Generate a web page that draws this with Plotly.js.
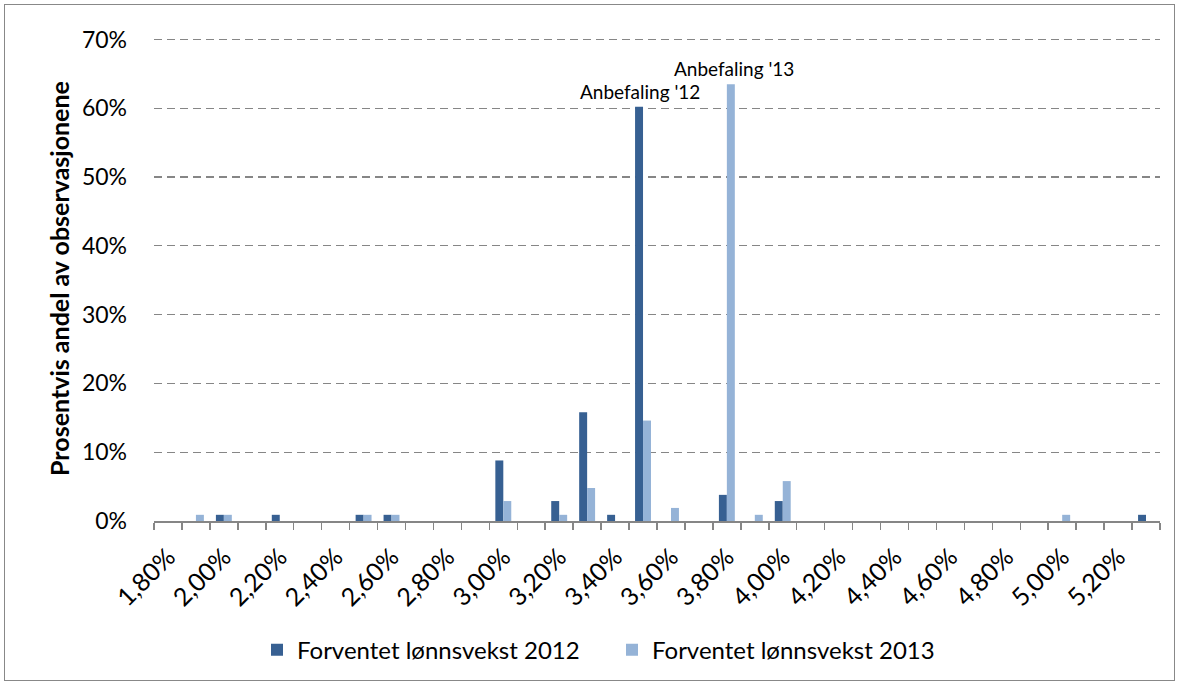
<!DOCTYPE html>
<html>
<head>
<meta charset="utf-8">
<script src="https://cdn.plot.ly/plotly-3.0.1.min.js"></script>
<style>
  html, body { margin: 0; padding: 0; background: #fff; }
  #frame { position: absolute; left: 4px; top: 4px; width: 1171px; height: 677px; border: 1px solid #888; box-sizing: border-box; pointer-events: none; z-index: 5; }
  #chart { position: absolute; left: 0; top: 0; width: 1183px; height: 685px; }
</style>
</head>
<body>
<div id="chart"></div>
<div id="frame"></div>
<script>
// Categories: expected wage growth (%)
const categories = [1.8, 1.9, 2.0, 2.1, 2.2, 2.3, 2.4, 2.5, 2.6, 2.7, 2.8, 2.9,
                    3.0, 3.1, 3.2, 3.3, 3.4, 3.5, 3.6, 3.7, 3.8, 3.9, 4.0, 4.1,
                    4.2, 4.3, 4.4, 4.5, 4.6, 4.7, 4.8, 4.9, 5.0, 5.1, 5.2, 5.3];
// Share of observations (%)
const vekst2012 = [0, 0, 0.9, 0, 0.9, 0, 0, 0.9, 0.9, 0, 0, 0,
                   8.8, 0, 2.9, 15.8, 0.9, 60.2, 0, 0, 3.8, 0, 2.9, 0,
                   0, 0, 0, 0, 0, 0, 0, 0, 0, 0, 0, 0.9];
const vekst2013 = [0, 0.9, 0.9, 0, 0, 0, 0, 0.9, 0.9, 0, 0, 0,
                   2.9, 0, 0.9, 4.8, 0, 14.6, 1.9, 0, 63.5, 0.9, 5.8, 0,
                   0, 0, 0, 0, 0, 0, 0, 0, 0.9, 0, 0, 0];
const tickValues = [1.8, 2.0, 2.2, 2.4, 2.6, 2.8, 3.0, 3.2, 3.4, 3.6, 3.8, 4.0, 4.2, 4.4, 4.6, 4.8, 5.0, 5.2];
const tickLabels = ["1,80%", "2,00%", "2,20%", "2,40%", "2,60%", "2,80%", "3,00%", "3,20%", "3,40%",
                    "3,60%", "3,80%", "4,00%", "4,20%", "4,40%", "4,60%", "4,80%", "5,00%", "5,20%"];
const boundaries = [1.75, 1.85, 1.95, 2.05, 2.15, 2.25, 2.35, 2.45, 2.55, 2.65, 2.75, 2.85,
                    2.95, 3.05, 3.15, 3.25, 3.35, 3.45, 3.55, 3.65, 3.75, 3.85, 3.95, 4.05,
                    4.15, 4.25, 4.35, 4.45, 4.55, 4.65, 4.75, 4.85, 4.95, 5.05, 5.15, 5.25, 5.35];
const yTickValues = [0, 10, 20, 30, 40, 50, 60, 70];
const yTickLabels = ["0%", "10%", "20%", "30%", "40%", "50%", "60%", "70%"];
const seriesNames = ["Forventet lønnsvekst 2012", "Forventet lønnsvekst 2013"];
const colors = ["#376092", "#95B3D7"];

const FONT = "Lato, 'Open Sans', sans-serif";

const traces = [
  { type: "bar", x: categories, y: vekst2012, name: seriesNames[0], marker: { color: colors[0] } },
  { type: "bar", x: categories, y: vekst2013, name: seriesNames[1], marker: { color: colors[1] } }
];

const layout = {
  width: 1183, height: 685,
  margin: { l: 154, r: 23, t: 36, b: 164 },
  paper_bgcolor: "#fff", plot_bgcolor: "#fff",
  font: { family: FONT, color: "#000", size: 23 },
  barmode: "group", bargap: 0.43, bargroupgap: 0,
  showlegend: true,
  legend: {
    orientation: "h", xref: "container", yref: "container",
    x: 257 / 1183, xanchor: "left", y: 0.051, yanchor: "middle",
    font: { family: FONT, size: 24, color: "#000" },
    entrywidth: 310, traceorder: "normal"
  },
  xaxis: {
    type: "linear", range: [1.75, 5.35], fixedrange: true,
    tickmode: "array", tickvals: tickValues, ticktext: tickLabels,
    tickangle: -45, ticks: "", showgrid: false, zeroline: false,
    showline: true, linecolor: "#868686", linewidth: 1.5,
    ticklabelstandoff: 10,
    tickfont: { family: FONT, size: 25, color: "#000" },
    minor: { tickmode: "array", tickvals: boundaries, ticks: "outside", ticklen: 7, tickwidth: 1.5, tickcolor: "#868686", showgrid: false }
  },
  yaxis: {
    range: [0, 70.5], fixedrange: true,
    tickmode: "array", tickvals: yTickValues, ticktext: yTickLabels,
    showline: false, zeroline: false,
    showgrid: true, gridcolor: "#868686", gridwidth: 1.3, griddash: "8px,5px",
    ticks: "", ticklabelstandoff: 26,
    tickfont: { family: FONT, size: 23, color: "#000" },
    title: { text: "<b>Prosentvis andel av observasjonene</b>", font: { family: FONT, size: 25, color: "#000" }, standoff: 5 }
  },
  annotations: [
    { xref: "x", yref: "y", x: categories[17], y: vekst2012[17], text: "Anbefaling '12", showarrow: false,
      xanchor: "center", yanchor: "bottom", xshift: -3, yshift: 2, font: { family: FONT, size: 19, color: "#000" } },
    { xref: "x", yref: "y", x: categories[20], y: vekst2013[20], text: "Anbefaling '13", showarrow: false,
      xanchor: "center", yanchor: "bottom", xshift: 7, yshift: 2, font: { family: FONT, size: 19, color: "#000" } }
  ]
};

Plotly.newPlot("chart", traces, layout, { displayModeBar: false, staticPlot: true });
</script>
</body>
</html>
